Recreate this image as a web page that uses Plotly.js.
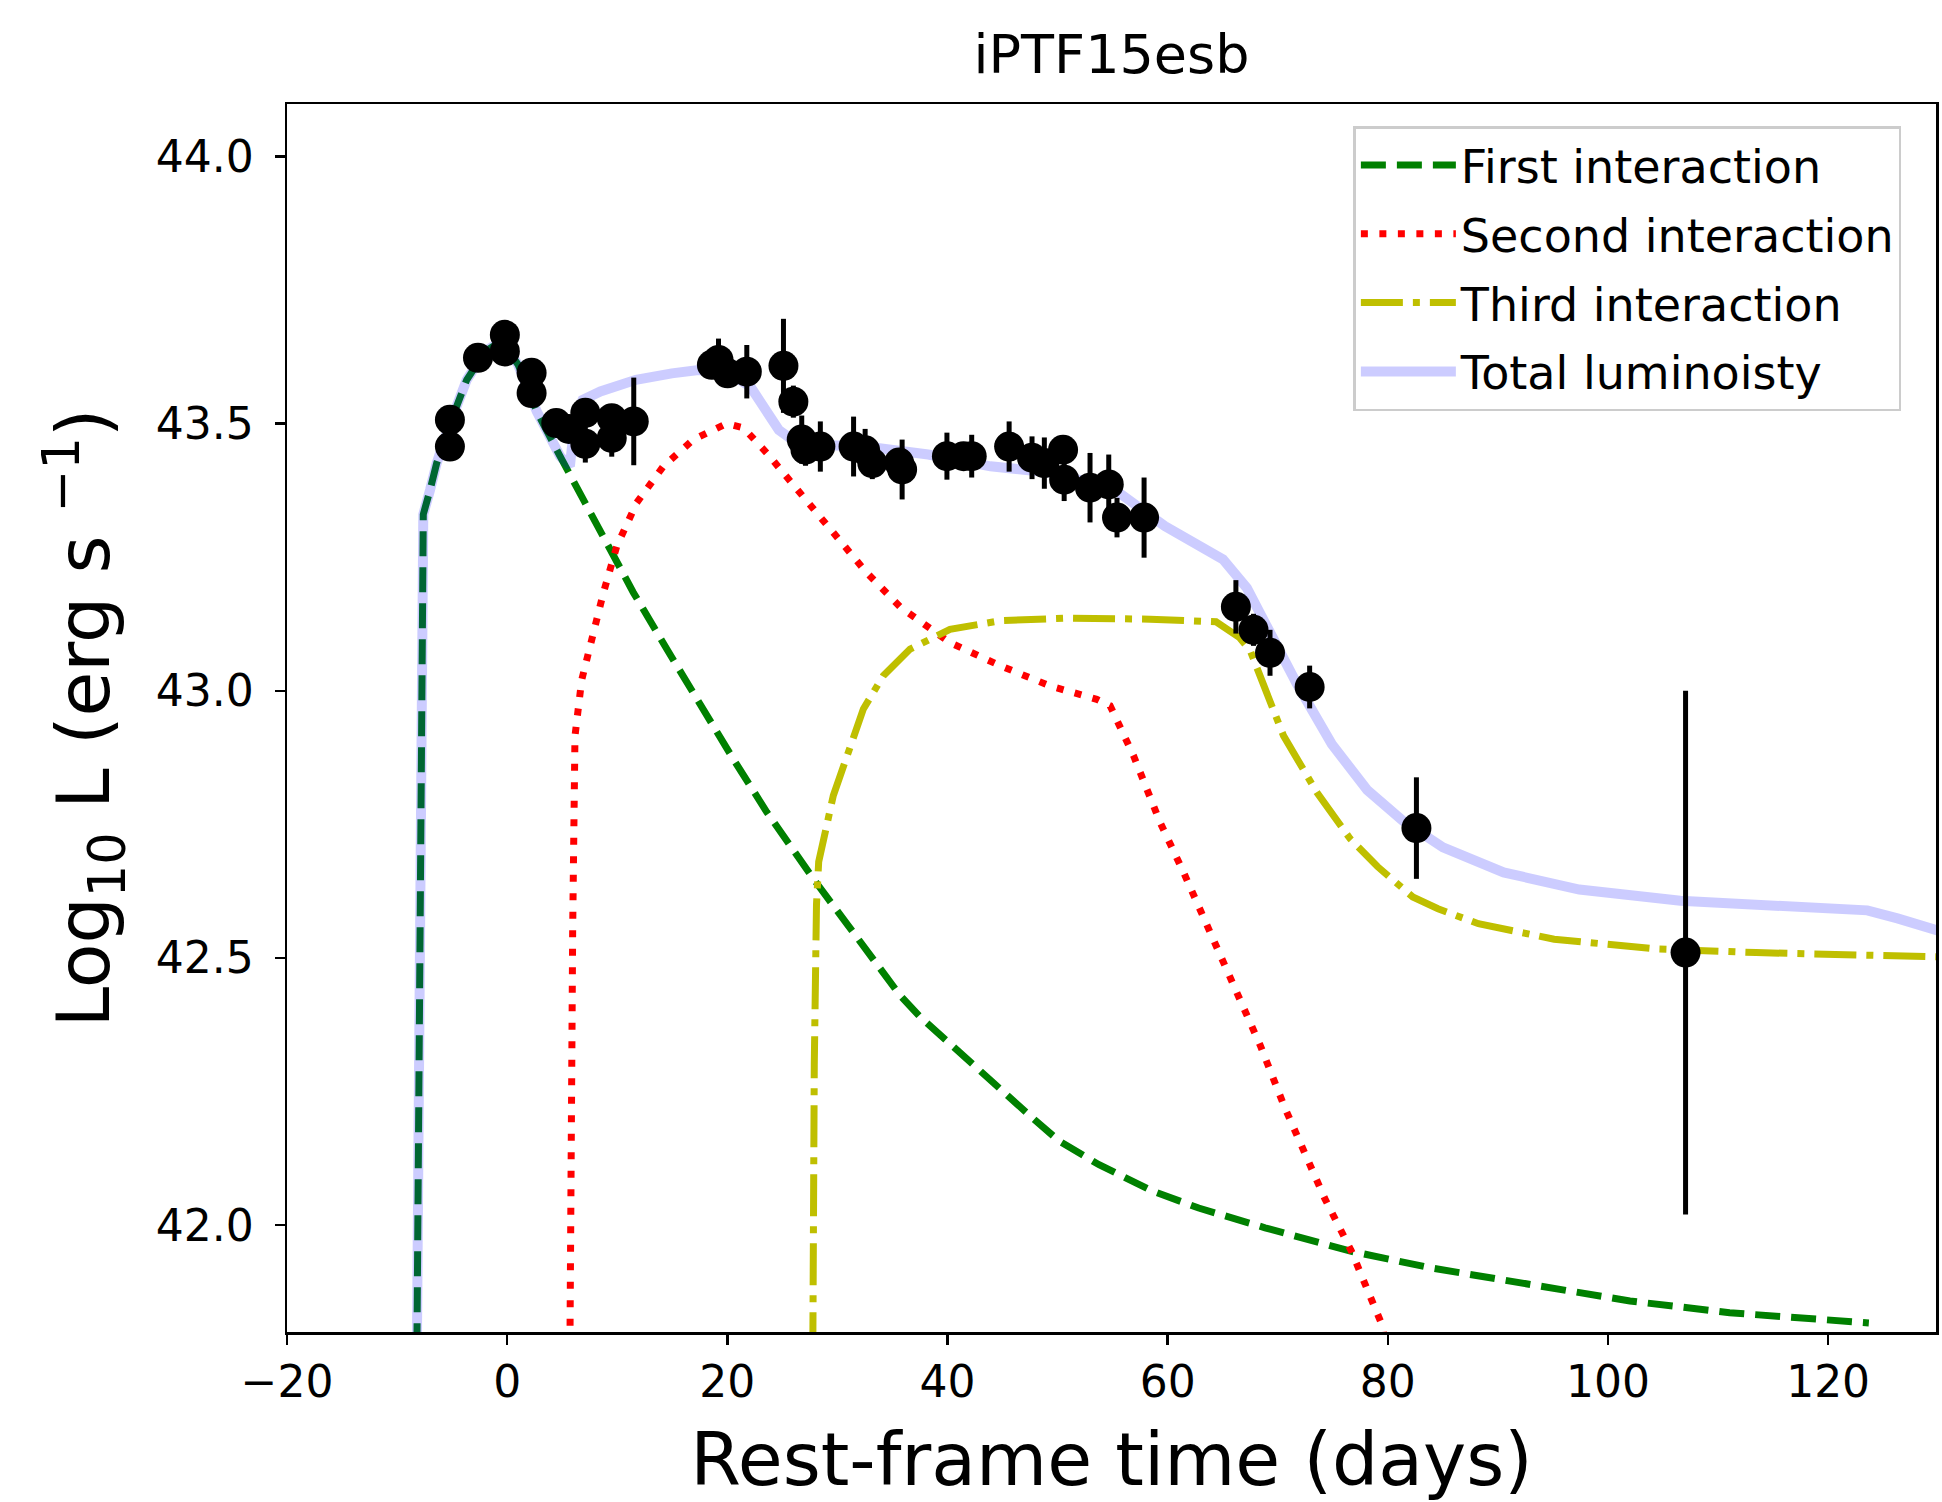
<!DOCTYPE html>
<html>
<head>
<meta charset="utf-8">
<script src="https://cdn.plot.ly/plotly-3.0.1.min.js"></script>
<style>html,body{margin:0;padding:0;background:#fff;}#chart{width:1942px;height:1502px;}</style>
</head>
<body>
<div id="chart"></div>
<script>
// Observed data points
const obsT = [-5.2, -5.2, -2.65, -0.21, -0.21, 2.22, 2.22, 4.46, 5.6, 7.1, 7.1, 9.5, 9.5, 11.5, 18.6, 19.2, 20.03, 21.77, 25.1, 26.0, 26.76, 27.1, 28.45, 31.47, 32.52, 33.17, 35.6, 35.88, 39.95, 41.46, 42.2, 45.6, 47.68, 48.8, 50.5, 50.6, 52.95, 54.65, 55.4, 57.86, 66.2, 67.8, 69.3, 72.9, 82.6, 107.05];
const obsL = [43.507, 43.457, 43.623, 43.666, 43.635, 43.595, 43.557, 43.501, 43.49, 43.52, 43.462, 43.51, 43.473, 43.504, 43.61, 43.619, 43.594, 43.597, 43.608, 43.541, 43.47, 43.451, 43.457, 43.457, 43.45, 43.426, 43.427, 43.414, 43.439, 43.439, 43.439, 43.457, 43.436, 43.426, 43.451, 43.395, 43.38, 43.386, 43.324, 43.324, 43.157, 43.114, 43.071, 43.007, 42.743, 42.51];
const obsErr = [0.02, 0.02, 0.02, 0.02, 0.02, 0.02, 0.02, 0.02, 0.02, 0.02, 0.035, 0.02, 0.035, 0.082, 0.02, 0.04, 0.02, 0.05, 0.088, 0.03, 0.045, 0.03, 0.047, 0.056, 0.04, 0.03, 0.02, 0.056, 0.044, 0.02, 0.04, 0.047, 0.04, 0.048, 0.02, 0.04, 0.065, 0.056, 0.037, 0.075, 0.05, 0.03, 0.043, 0.04, 0.095, 0.49];

// First interaction model
const firstT = [-8.3, -8.19, -7.92, -7.7, -7.62, -7.0, -6.4, -5.19, -3.67, -2.0, -0.5, 1.0, 2.68, 4.8, 8.44, 11.46, 14.5, 17.52, 20.55, 23.58, 27.82, 31.0, 33.5, 35.69, 37.5, 39.3, 42.92, 47.75, 50.17, 53.77, 58.6, 62.82, 68.85, 76.7, 83.9, 92.97, 102.0, 111.05, 123.7];
const firstL = [41.5, 41.8, 42.65, 43.1, 43.33, 43.376, 43.426, 43.5, 43.582, 43.635, 43.655, 43.61, 43.523, 43.439, 43.302, 43.184, 43.078, 42.972, 42.872, 42.773, 42.648, 42.56, 42.49, 42.43, 42.39, 42.356, 42.288, 42.2, 42.157, 42.113, 42.064, 42.032, 41.995, 41.951, 41.92, 41.889, 41.858, 41.836, 41.817];

// Second interaction model
const secondT = [5.68, 5.71, 5.95, 6.16, 6.77, 7.68, 8.74, 9.95, 11.77, 14.19, 16.91, 19.95, 21.46, 23.58, 26.6, 29.63, 32.66, 35.69, 40.23, 44.78, 49.32, 53.56, 54.77, 56.89, 59.31, 61.43, 63.86, 66.28, 68.4, 70.66, 74.27, 76.7, 79.58, 79.7];
const secondL = [41.5, 41.8, 42.55, 42.915, 43.02, 43.096, 43.183, 43.27, 43.352, 43.42, 43.47, 43.5, 43.492, 43.445, 43.37, 43.296, 43.221, 43.157, 43.09, 43.047, 43.009, 42.984, 42.972, 42.879, 42.754, 42.661, 42.549, 42.437, 42.337, 42.219, 42.05, 41.951, 41.808, 41.78];

// Third interaction model
const thirdT = [27.7, 27.72, 27.9, 28.1, 28.3, 29.63, 31.15, 32.36, 34.17, 36.6, 40.23, 44.78, 50.83, 58.4, 64.4, 66.5, 67.5, 69.0, 70.52, 73.55, 76.58, 79.06, 82.27, 84.56, 88.23, 95.11, 104.29, 113.46, 129.52, 130.0];
const thirdL = [41.5, 41.8, 42.3, 42.6, 42.68, 42.804, 42.891, 42.966, 43.028, 43.078, 43.115, 43.131, 43.136, 43.134, 43.129, 43.1, 43.075, 42.997, 42.916, 42.81, 42.723, 42.671, 42.614, 42.592, 42.564, 42.535, 42.517, 42.51, 42.503, 42.502];

// Total luminosity model
const totalT = [-8.3, -8.19, -7.92, -7.7, -7.62, -7.0, -6.4, -5.19, -3.67, -2.0, -0.5, 1.0, 2.68, 4.8, 5.7, 6.16, 6.85, 8.47, 11.7, 14.96, 17.39, 20.0, 22.1, 24.68, 26.3, 28.5, 32.6, 38.25, 43.91, 49.56, 55.21, 59.74, 65.03, 67.2, 68.95, 71.71, 74.92, 78.13, 81.34, 85.01, 90.52, 97.4, 106.58, 115.76, 123.56, 126.3, 129.76, 130.0];
const totalL = [41.5, 41.8, 42.65, 43.1, 43.33, 43.376, 43.426, 43.5, 43.582, 43.635, 43.655, 43.61, 43.523, 43.439, 43.42, 43.51, 43.544, 43.56, 43.582, 43.594, 43.6, 43.597, 43.569, 43.488, 43.464, 43.46, 43.457, 43.442, 43.42, 43.408, 43.376, 43.308, 43.246, 43.192, 43.122, 43.014, 42.9, 42.814, 42.757, 42.707, 42.66, 42.628, 42.607, 42.596, 42.589, 42.574, 42.553, 42.551];

// Labels
const seriesNames = ["First interaction", "Second interaction", "Third interaction", "Total luminoisty"];
const xTicks = [-20, 0, 20, 40, 60, 80, 100, 120];
const yTicks = [42.0, 42.5, 43.0, 43.5, 44.0];

const FONT = "DejaVu Sans, Liberation Sans, sans-serif";
const LW = 7;

const traces = [
  {x: firstT, y: firstL, mode: "lines", name: seriesNames[0], legendgroup: "a",
   line: {color: "#008000", width: LW, dash: "25px,11px"}},
  {x: secondT, y: secondL, mode: "lines", name: seriesNames[1], legendgroup: "b",
   line: {color: "#ff0000", width: LW, dash: "7px,11.5px"}},
  {x: thirdT, y: thirdL, mode: "lines", name: seriesNames[2], legendgroup: "c",
   line: {color: "#bfbf00", width: LW, dash: "42px,10px,7px,10px"}},
  {x: totalT, y: totalL, mode: "lines", name: seriesNames[3], legendgroup: "d",
   line: {color: "rgba(0,0,255,0.2)", width: 10}},
  {x: obsT, y: obsL, mode: "markers", showlegend: false,
   marker: {color: "#000000", size: 30},
   error_y: {type: "data", array: obsErr, visible: true, color: "#000000", thickness: 5, width: 0}}
];

const layout = {
  width: 1942, height: 1502,
  margin: {l: 287, r: 6, t: 104, b: 170, pad: 0},
  paper_bgcolor: "#ffffff", plot_bgcolor: "#ffffff",
  font: {family: FONT, color: "#000000"},
  title: {text: "iPTF15esb", font: {family: FONT, size: 54, color: "#000"},
          x: 0.5, xref: "paper", xanchor: "center", y: 0.964, yref: "container", yanchor: "middle"},
  xaxis: {
    range: [-20, 129.8], tickmode: "array", tickvals: xTicks,
    ticks: "outside", ticklen: 10, tickwidth: 2.5, tickcolor: "#000",
    showline: true, linecolor: "#000", linewidth: 2.5, mirror: true,
    showgrid: false, zeroline: false,
    tickfont: {family: FONT, size: 44, color: "#000"},
    title: {text: "Rest-frame time (days)", font: {family: FONT, size: 73, color: "#000"}, standoff: 28}
  },
  yaxis: {
    range: [41.8, 44.098], tickmode: "array", tickvals: yTicks, tickformat: ".1f",
    ticks: "outside", ticklen: 10, tickwidth: 2.5, tickcolor: "#000",
    showline: true, linecolor: "#000", linewidth: 2.5, mirror: true,
    showgrid: false, zeroline: false,
    tickfont: {family: FONT, size: 44, color: "#000"},
    ticklabelstandoff: 12,
    title: {text: "Log<sub>10</sub> L (erg s <sup>−1</sup>)", font: {family: FONT, size: 73, color: "#000"}, standoff: 22}
  },
  showlegend: true,
  legend: {
    x: 0.979, xanchor: "right", y: 0.982, yanchor: "top",
    bgcolor: "rgba(255,255,255,0.8)", bordercolor: "#cccccc", borderwidth: 2.5,
    font: {family: FONT, size: 46, color: "#000"},
    tracegroupgap: 6, itemwidth: 95
  }
};

Plotly.newPlot("chart", traces, layout, {displayModeBar: false, staticPlot: true});
</script>
</body>
</html>
